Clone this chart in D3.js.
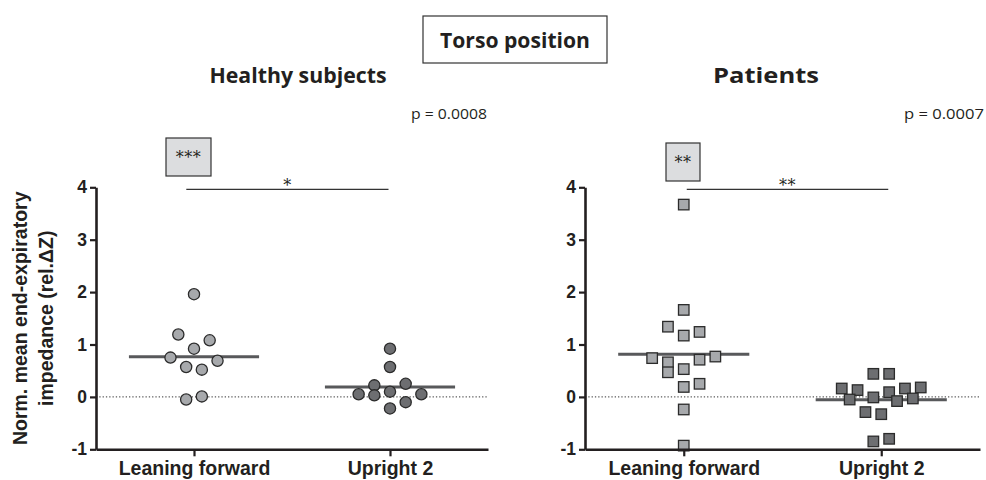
<!DOCTYPE html>
<html>
<head>
<meta charset="utf-8">
<script src="https://cdn.jsdelivr.net/npm/d3@7"></script>
<style>
  html, body { margin: 0; padding: 0; background: #fff; }
  svg { display: block; }
</style>
</head>
<body>
<svg id="chart" width="986" height="480"></svg>
<script>
// ---------------- DATA ----------------
const categories = ["Leaning forward", "Upright 2"];
const yTicks = [-1, 0, 1, 2, 3, 4];
const panelTitles = ["Healthy subjects", "Patients"];
const pValues = ["p = 0.0008", "p = 0.0007"];
const boxStars = ["***", "**"];
const barStars = ["*", "**"];

const healthyLean      = [1.96, 1.19, 1.08, 0.92, 0.75, 0.69, 0.57, 0.52, -0.05, 0.01];
const healthyLeanSlot  = [0, -1, 1, 0, -1.5, 1.5, -0.5, 0.5, -0.5, 0.5];
const healthyUpright     = [0.92, 0.57, 0.22, 0.25, 0.05, 0.03, 0.10, 0.05, -0.10, -0.22];
const healthyUprightSlot = [0, 0, -1, 1, -2, -1, 0, 2, 1, 0];

const patientLean     = [3.67, 1.66, 1.34, 1.17, 1.24, 0.74, 0.66, 0.71, 0.77, 0.47, 0.53, 0.19, 0.25, -0.24, -0.93];
const patientLeanSlot = [0, 0, -1, 0, 1, -2, -1, 1, 2, -1, 0, 0, 1, 0, 0];
const patientUpright     = [0.44, 0.44, 0.16, 0.13, 0.16, 0.18, 0.09, -0.01, -0.05, -0.08, -0.03, -0.29, -0.33, -0.85, -0.80];
const patientUprightSlot = [-0.5, 0.5, -2.5, -1.5, 1.5, 2.5, 0.5, -0.5, -2, 1, 2, -1, 0, -0.5, 0.5];

// ---------------- LAYOUT ----------------
const svg = d3.select("#chart");
const yTop = 187.3, yBot = 449.3;
const y = d3.scaleLinear().domain([-1, 4]).range([yBot, yTop]);

const AXIS = "#231f20";
const LIGHT = "#a7a9ac", DARK = "#6d6e71", MEANC = "#58595b";
const SANS = "Liberation Sans, Arial, sans-serif";
const CAL = "'Open Sans', Lato, sans-serif";

const panels = [
  { x0: 96, x1: 488, shape: "circle",
    series: [[healthyLean, healthyLeanSlot, LIGHT], [healthyUpright, healthyUprightSlot, DARK]],
    title: panelTitles[0], titleX: 298, titleW: 177,
    p: pValues[0], pX: 411, pW: 76,
    box: { x: 166, y: 138, w: 45, h: 38 }, boxStar: boxStars[0], barStar: barStars[0],
    bar: [-7.7, -1.5] },
  { x0: 585, x1: 980, shape: "square",
    series: [[patientLean, patientLeanSlot, LIGHT], [patientUpright, patientUprightSlot, DARK]],
    title: panelTitles[1], titleX: 766, titleW: 106,
    p: pValues[1], pX: 904, pW: 80,
    box: { x: 666, y: 143, w: 34, h: 38 }, boxStar: boxStars[1], barStar: barStars[1],
    bar: [3, 7] }
];

// Main title box
svg.append("rect").attr("x", 423).attr("y", 16).attr("width", 184).attr("height", 47)
  .attr("fill", "#fff").attr("stroke", "#333").attr("stroke-width", 1.2);
svg.append("text").attr("x", 515).attr("y", 48).attr("text-anchor", "middle")
  .attr("font-family", CAL).attr("font-weight", 700).attr("font-size", 21)
  .attr("fill", "#231f20")
  .attr("textLength", 150).attr("lengthAdjust", "spacingAndGlyphs")
  .text("Torso position");

// Y-axis title
const yt = svg.append("g").attr("transform", `translate(0,${(yTop + yBot) / 2}) rotate(-90)`);
yt.append("text").attr("x", 0).attr("y", 27).attr("text-anchor", "middle")
  .attr("font-family", SANS).attr("font-weight", 700).attr("font-size", 19.5).attr("fill", AXIS)
  .text("Norm. mean end-expiratory");
yt.append("text").attr("x", 0).attr("y", 53).attr("text-anchor", "middle")
  .attr("font-family", SANS).attr("font-weight", 700).attr("font-size", 19.5).attr("fill", AXIS)
  .text("impedance (rel.\u0394Z)");

panels.forEach(pn => {
  const x = d3.scalePoint().domain(categories).range([pn.x0, pn.x1]).padding(0.5);
  const step = x.step();
  const slotW = step * 0.08;
  const halfMean = step * 0.332;
  const g = svg.append("g");

  // titles
  g.append("text").attr("x", pn.titleX).attr("y", 83).attr("text-anchor", "middle")
    .attr("font-family", CAL).attr("font-weight", 700).attr("font-size", 21).attr("fill", "#231f20")
    .attr("textLength", pn.titleW).attr("lengthAdjust", "spacingAndGlyphs")
    .text(pn.title);
  g.append("text").attr("x", pn.pX).attr("y", 119)
    .attr("font-family", CAL).attr("font-size", 15).attr("fill", "#231f20")
    .attr("textLength", pn.pW).attr("lengthAdjust", "spacingAndGlyphs")
    .text(pn.p);

  // star box
  g.append("rect").attr("x", pn.box.x).attr("y", pn.box.y).attr("width", pn.box.w).attr("height", pn.box.h)
    .attr("fill", "#dcdddf").attr("stroke", "#333").attr("stroke-width", 1.2);
  g.append("text").attr("x", pn.box.x + pn.box.w / 2).attr("y", pn.box.y + 25).attr("text-anchor", "middle")
    .attr("font-family", "DejaVu Serif, serif").attr("font-size", 16).attr("fill", "#231f20")
    .attr("letter-spacing", 0.5)
    .text(pn.boxStar);

  // significance bar
  const bx0 = x(categories[0]) + pn.bar[0], bx1 = x(categories[1]) + pn.bar[1];
  g.append("line").attr("x1", bx0).attr("x2", bx1).attr("y1", 189.3).attr("y2", 189.3)
    .attr("stroke", "#333").attr("stroke-width", 1.3);
  g.append("text").attr("x", (bx0 + bx1) / 2).attr("y", 191).attr("text-anchor", "middle")
    .attr("font-family", "DejaVu Serif, serif").attr("font-size", 16).attr("fill", "#231f20")
    .attr("letter-spacing", 0.5)
    .text(pn.barStar);

  // zero dotted line
  g.append("line").attr("x1", pn.x0).attr("x2", pn.x1).attr("y1", y(0)).attr("y2", y(0))
    .attr("stroke", "#333").attr("stroke-width", 1).attr("stroke-dasharray", "1.3,2");

  // mean lines
  pn.series.forEach((s, i) => {
    const cx = x(categories[i]);
    const m = d3.mean(s[0]);
    g.append("line").attr("x1", cx - halfMean).attr("x2", cx + halfMean)
      .attr("y1", y(m)).attr("y2", y(m))
      .attr("stroke", MEANC).attr("stroke-width", 3);
  });

  // points
  pn.series.forEach((s, i) => {
    const cx = x(categories[i]);
    const pts = s[0].map((v, j) => ({ v, slot: s[1][j] }));
    if (pn.shape === "circle") {
      g.selectAll(null).data(pts).enter().append("circle")
        .attr("cx", d => cx + d.slot * slotW).attr("cy", d => y(d.v)).attr("r", 5.6)
        .attr("fill", s[2]).attr("stroke", "#2b2b2b").attr("stroke-width", 1.3);
    } else {
      const sz = 10.5;
      g.selectAll(null).data(pts).enter().append("rect")
        .attr("x", d => cx + d.slot * slotW - sz / 2).attr("y", d => y(d.v) - sz / 2)
        .attr("width", sz).attr("height", sz)
        .attr("fill", s[2]).attr("stroke", "#2b2b2b").attr("stroke-width", 1.3);
    }
  });

  // axes
  const ya = g.append("g").attr("transform", `translate(${pn.x0},0)`)
    .call(d3.axisLeft(y).tickValues(yTicks).tickFormat(d => String(d)).tickSize(6).tickSizeOuter(0).tickPadding(3));
  const xa = g.append("g").attr("transform", `translate(0,${yBot})`)
    .call(d3.axisBottom(x).tickSize(7).tickSizeOuter(0).tickPadding(5));
  [ya, xa].forEach(a => {
    a.select(".domain").attr("stroke", AXIS).attr("stroke-width", 2.6);
    a.selectAll(".tick line").attr("stroke", AXIS).attr("stroke-width", 2.2);
    a.selectAll("text").attr("fill", AXIS).attr("font-family", SANS).attr("font-weight", 700);
  });
  ya.selectAll("text").attr("font-size", 17.5);
  xa.selectAll("text").attr("font-size", 19.5).attr("dy", "0.71em").attr("y", 12);
});
</script>
</body>
</html>
